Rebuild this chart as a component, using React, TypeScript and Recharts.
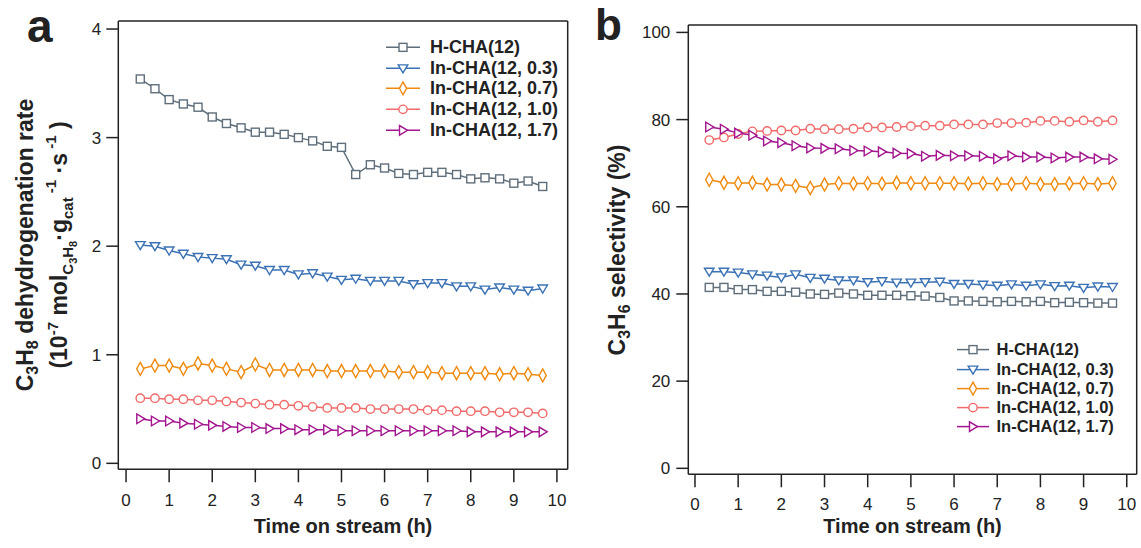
import React from "react";
import { LineChart, Line, XAxis, YAxis, ReferenceLine, Legend } from "recharts";

// time on stream (h)
const TIME = [
  0.33, 0.67, 1.0, 1.33, 1.67, 2.0, 2.33, 2.67, 3.0, 3.33, 3.67, 4.0, 4.33, 4.67, 5.0,
  5.33, 5.67, 6.0, 6.33, 6.67, 7.0, 7.33, 7.67, 8.0, 8.33, 8.67, 9.0, 9.33, 9.67,
];

const SERIES_NAMES = ["H-CHA(12)", "In-CHA(12, 0.3)", "In-CHA(12, 0.7)", "In-CHA(12, 1.0)", "In-CHA(12, 1.7)"];

// panel a: C3H8 dehydrogenation rate (1e-7 mol/g/s)
const RATE_H = [3.54, 3.45, 3.35, 3.31, 3.28, 3.19, 3.13, 3.09, 3.05, 3.05, 3.03, 3.0, 2.97, 2.92, 2.91, 2.66, 2.75, 2.72, 2.67, 2.66, 2.68, 2.68, 2.66, 2.62, 2.63, 2.62, 2.58, 2.6, 2.55];
const RATE_03 = [2.01, 2.0, 1.96, 1.93, 1.9, 1.89, 1.88, 1.83, 1.82, 1.78, 1.78, 1.74, 1.75, 1.72, 1.69, 1.7, 1.68, 1.68, 1.68, 1.65, 1.66, 1.66, 1.63, 1.63, 1.6, 1.62, 1.6, 1.59, 1.61];
const RATE_07 = [0.87, 0.9, 0.9, 0.87, 0.92, 0.9, 0.87, 0.84, 0.91, 0.86, 0.86, 0.86, 0.86, 0.85, 0.85, 0.85, 0.85, 0.85, 0.84, 0.84, 0.84, 0.83, 0.83, 0.83, 0.83, 0.82, 0.83, 0.82, 0.81];
const RATE_10 = [0.6, 0.6, 0.59, 0.59, 0.58, 0.58, 0.57, 0.56, 0.55, 0.54, 0.54, 0.53, 0.52, 0.51, 0.51, 0.51, 0.5, 0.5, 0.5, 0.5, 0.49, 0.49, 0.48, 0.48, 0.48, 0.47, 0.47, 0.47, 0.46];
const RATE_17 = [0.41, 0.39, 0.39, 0.37, 0.36, 0.35, 0.34, 0.33, 0.33, 0.32, 0.32, 0.31, 0.31, 0.31, 0.3, 0.3, 0.3, 0.3, 0.3, 0.3, 0.3, 0.3, 0.3, 0.29, 0.29, 0.29, 0.29, 0.29, 0.29];

// panel b: C3H6 selectivity (%)
const SEL_H = [41.5, 41.5, 41.0, 41.0, 40.6, 40.6, 40.4, 40.0, 39.9, 40.2, 40.0, 39.7, 39.7, 39.7, 39.6, 39.5, 39.2, 38.4, 38.4, 38.3, 38.2, 38.3, 38.2, 38.3, 38.0, 38.1, 38.0, 37.9, 37.9];
const SEL_03 = [45.1, 45.1, 44.9, 44.5, 44.2, 43.8, 44.5, 43.7, 43.5, 43.1, 43.1, 42.7, 42.9, 42.6, 42.6, 42.7, 42.8, 42.3, 42.3, 42.1, 41.9, 42.2, 41.9, 42.2, 41.8, 41.9, 41.4, 41.7, 41.6];
const SEL_07 = [66.2, 65.5, 65.4, 65.5, 65.1, 65.1, 64.8, 64.3, 65.1, 65.4, 65.3, 65.4, 65.3, 65.5, 65.4, 65.4, 65.4, 65.4, 65.3, 65.4, 65.2, 65.2, 65.4, 65.2, 65.2, 65.3, 65.4, 65.2, 65.4];
const SEL_10 = [75.3, 75.9, 76.7, 77.3, 77.4, 77.5, 77.5, 77.9, 77.8, 77.8, 77.9, 78.2, 78.2, 78.3, 78.5, 78.6, 78.6, 78.9, 78.9, 78.9, 79.2, 79.2, 79.3, 79.7, 79.7, 79.5, 79.8, 79.5, 79.8];
const SEL_17 = [78.3, 77.8, 76.9, 76.4, 75.1, 74.7, 74.0, 73.5, 73.4, 73.3, 72.9, 72.8, 72.6, 72.3, 72.2, 71.6, 71.8, 71.7, 71.7, 71.6, 71.0, 71.7, 71.4, 71.4, 71.2, 71.4, 71.4, 71.0, 70.9];

const X_TICKS = [0, 1, 2, 3, 4, 5, 6, 7, 8, 9, 10];
const RATE_TICKS = [0, 1, 2, 3, 4];
const SEL_TICKS = [0, 20, 40, 60, 80, 100];

const KEYS = ["h", "in03", "in07", "in10", "in17"];
const COLORS = ["#5f6e7b", "#3b72b5", "#ef8a0f", "#f26a6a", "#a3168f"];
const MARKERS = ["square", "triDown", "diamond", "circle", "triRight"];

const rateRows = TIME.map((t, i) => ({
  t,
  h: RATE_H[i],
  in03: RATE_03[i],
  in07: RATE_07[i],
  in10: RATE_10[i],
  in17: RATE_17[i],
}));

const selRows = TIME.map((t, i) => ({
  t,
  h: SEL_H[i],
  in03: SEL_03[i],
  in07: SEL_07[i],
  in10: SEL_10[i],
  in17: SEL_17[i],
}));

const FONT = '"Liberation Sans", Arial, sans-serif';
const INK = "#222";

function Marker({ kind, cx, cy, color }: { kind: string; cx: number; cy: number; color: string }) {
  const st = { stroke: color, strokeWidth: 1.4, fill: "#fff" };
  switch (kind) {
    case "square":
      return <rect x={cx - 4} y={cy - 4} width={8} height={8} {...st} />;
    case "triDown":
      return <polygon points={`${cx - 4.8},${cy - 3.5} ${cx + 4.8},${cy - 3.5} ${cx},${cy + 4.5}`} {...st} />;
    case "diamond":
      return <polygon points={`${cx},${cy - 6.5} ${cx + 3.6},${cy} ${cx},${cy + 6.5} ${cx - 3.6},${cy}`} {...st} />;
    case "circle":
      return <circle cx={cx} cy={cy} r={4.2} {...st} />;
    default:
      return <polygon points={`${cx - 3.5},${cy - 4.8} ${cx - 3.5},${cy + 4.8} ${cx + 4.5},${cy}`} {...st} />;
  }
}

function makeDot(idx: number) {
  return (p: any) => {
    const key = `${KEYS[idx]}-${p.index}`;
    if (p.cx == null || p.cy == null) return <g key={key} />;
    return (
      <g key={key}>
        <Marker kind={MARKERS[idx]} cx={p.cx} cy={p.cy} color={COLORS[idx]} />
      </g>
    );
  };
}

function makeLegend(rowH: number, fontSize: number, symW: number, gap: number) {
  return (props: any) => {
    const items = props.payload || [];
    return (
      <div style={{ fontFamily: FONT, fontWeight: "bold", fontSize, color: INK }}>
        {items.map((it: any) => {
          const idx = KEYS.indexOf(it.dataKey);
          return (
            <div key={it.dataKey} style={{ display: "flex", alignItems: "center", height: rowH, whiteSpace: "nowrap" }}>
              <svg width={symW} height={rowH} style={{ display: "block" }}>
                <line x1={0} x2={symW} y1={rowH / 2} y2={rowH / 2} stroke={COLORS[idx]} strokeWidth={1.5} />
                <Marker kind={MARKERS[idx]} cx={symW / 2} cy={rowH / 2} color={COLORS[idx]} />
              </svg>
              <span style={{ marginLeft: gap, lineHeight: `${rowH}px` }}>{it.value}</span>
            </div>
          );
        })}
      </div>
    );
  };
}

const axisStroke = { stroke: INK, strokeWidth: 1.5 };
const tickStyle = { fontSize: 17, fill: INK, fontFamily: FONT };

function Series() {
  return KEYS.map((k, i) => (
    <Line
      key={k}
      type="linear"
      dataKey={k}
      name={SERIES_NAMES[i]}
      stroke={COLORS[i]}
      strokeWidth={1.5}
      dot={makeDot(i)}
      activeDot={false}
      isAnimationActive={false}
    />
  ));
}

export default function App() {
  const xDomA: [number, number] = [-0.18, 10.25];
  const yDomA: [number, number] = [-0.055, 4.074];
  const xDomB: [number, number] = [-0.155, 10.23];
  const yDomB: [number, number] = [-1.37, 101.7];

  return (
    <div style={{ position: "absolute", left: 0, top: 0, width: 1141, height: 548, background: "#fff", fontFamily: FONT }}>
      <div style={{ position: "absolute", left: 0, top: 0 }}>
        <LineChart width={580} height={548} data={rateRows} margin={{ top: 21, right: 12.3, bottom: 38.7, left: 58.3 }}>
          <XAxis
            type="number"
            dataKey="t"
            domain={xDomA}
            ticks={X_TICKS}
            allowDataOverflow
            height={40}
            tickSize={13}
            tickMargin={12}
            axisLine={axisStroke}
            tickLine={axisStroke}
            tick={tickStyle}
          />
          <YAxis
            type="number"
            domain={yDomA}
            ticks={RATE_TICKS}
            allowDataOverflow
            width={60}
            tickSize={12}
            tickMargin={5}
            axisLine={axisStroke}
            tickLine={axisStroke}
            tick={tickStyle}
          />
          <ReferenceLine y={yDomA[1]} stroke={INK} strokeWidth={1.5} />
          <ReferenceLine x={xDomA[1]} stroke={INK} strokeWidth={1.5} />
          {Series()}
          <Legend
            layout="vertical"
            align="center"
            verticalAlign="middle"
            wrapperStyle={{ left: 386, top: 37, width: "auto" }}
            content={makeLegend(20.7, 18, 34, 10)}
          />
        </LineChart>
      </div>

      <div style={{ position: "absolute", left: 580, top: 0 }}>
        <LineChart width={561} height={548} data={selRows} margin={{ top: 25, right: 4.3, bottom: 33.7, left: 48.3 }}>
          <XAxis
            type="number"
            dataKey="t"
            domain={xDomB}
            ticks={X_TICKS}
            allowDataOverflow
            height={40}
            tickSize={13}
            tickMargin={11}
            axisLine={axisStroke}
            tickLine={axisStroke}
            tick={tickStyle}
          />
          <YAxis
            type="number"
            domain={yDomB}
            ticks={SEL_TICKS}
            allowDataOverflow
            width={60}
            tickSize={12}
            tickMargin={6}
            axisLine={axisStroke}
            tickLine={axisStroke}
            tick={tickStyle}
          />
          <ReferenceLine y={yDomB[1]} stroke={INK} strokeWidth={1.5} />
          <ReferenceLine x={xDomB[1]} stroke={INK} strokeWidth={1.5} />
          {Series()}
          <Legend
            layout="vertical"
            align="center"
            verticalAlign="middle"
            wrapperStyle={{ left: 376.5, top: 340.4, width: "auto" }}
            content={makeLegend(19.2, 16.5, 32, 8)}
          />
        </LineChart>
      </div>

      <svg
        width={1141}
        height={548}
        style={{ position: "absolute", left: 0, top: 0, pointerEvents: "none" }}
        fontFamily={FONT}
        fill={INK}
      >
        <text x={27} y={41.5} fontSize={46} fontWeight="bold">a</text>
        <text x={595} y={40} fontSize={44} fontWeight="bold">b</text>

        <text x={33} y={245} transform="rotate(-90 33 245)" textAnchor="middle" fontSize={23} fontWeight="bold">
          C<tspan dy={5} fontSize={16}>3</tspan>
          <tspan dy={-5}>H</tspan>
          <tspan dy={5} fontSize={16}>8</tspan>
          <tspan dy={-5}> dehydrogenation rate</tspan>
        </text>
        <text x={67} y={245} transform="rotate(-90 67 245)" textAnchor="middle" fontSize={23} fontWeight="bold">
          (10<tspan dy={-9} fontSize={15}>-7</tspan>
          <tspan dy={9}> mol</tspan>
          <tspan dy={6} fontSize={15}>C</tspan>
          <tspan dy={4} fontSize={11}>3</tspan>
          <tspan dy={-4} fontSize={15}>H</tspan>
          <tspan dy={4} fontSize={11}>8</tspan>
          <tspan dy={-10}>·g</tspan>
          <tspan dy={6} fontSize={15}>cat</tspan>
          <tspan dy={-17} fontSize={15}> -1</tspan>
          <tspan dy={11}> ·s</tspan>
          <tspan dy={-11} fontSize={15}> -1</tspan>
          <tspan dy={11}> )</tspan>
        </text>

        <text x={625} y={250} transform="rotate(-90 625 250)" textAnchor="middle" fontSize={23} fontWeight="bold">
          C<tspan dy={5} fontSize={16}>3</tspan>
          <tspan dy={-5}>H</tspan>
          <tspan dy={5} fontSize={16}>6</tspan>
          <tspan dy={-5}> selectivity (%)</tspan>
        </text>

        <text x={343} y={533} textAnchor="middle" fontSize={20} fontWeight="bold">Time on stream (h)</text>
        <text x={912.5} y={533} textAnchor="middle" fontSize={20} fontWeight="bold">Time on stream (h)</text>
      </svg>
    </div>
  );
}
